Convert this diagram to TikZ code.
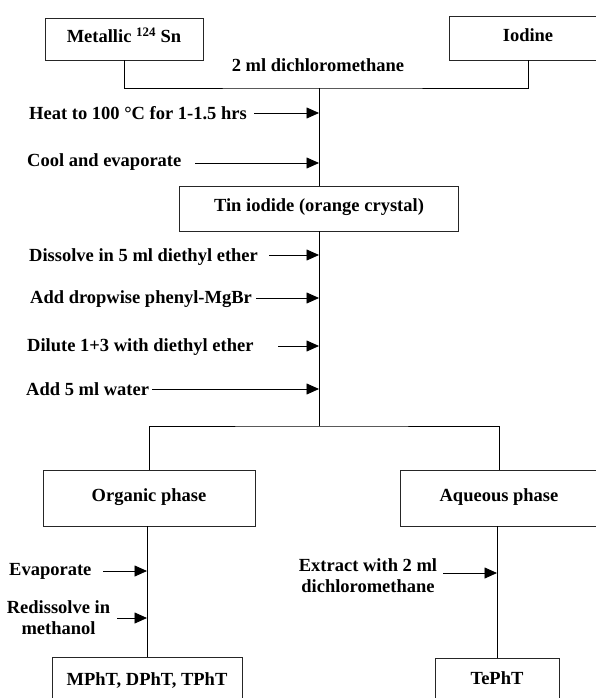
\documentclass[tikz,border=0pt]{standalone}
\usepackage{fontspec}
\setmainfont{Liberation Serif}
\usetikzlibrary{arrows.meta}
\begin{document}
\begin{tikzpicture}[x=1pt,y=-1pt,
  every node/.style={font=\bfseries\fontsize{18.5}{21}\selectfont, inner sep=0pt},
  box/.style={draw=black!85, line width=0.9pt, text height=0.662em, text depth=0pt},
  lbl/.style={anchor=base west},
  arr/.style={-{Triangle[length=12.5pt,width=11pt]}, line width=0.8pt},
  ln/.style={line width=0.9pt}]
\clip (0,0) rectangle (596,698);
\fill[white] (0,0) rectangle (596,698);
% boxes
\node[box, minimum width=158, minimum height=42] (met) at (124,39) {Metallic \textsuperscript{124} Sn};
\node[box, minimum width=158, minimum height=44] (iod) at (528,38) {Iodine};
\node (dcm) at (318,65) {2 ml dichloromethane};
\node[box, minimum width=279, minimum height=45] (tin) at (319,208.5) {Tin iodide (orange crystal)};
\node[box, minimum width=212, minimum height=56] (org) at (149,498) {Organic phase};
\node[box, minimum width=198, minimum height=56] (aq) at (499,498) {Aqueous phase};
\node[box, minimum width=190, minimum height=50] (mpht) at (147,682) {MPhT, DPhT, TPhT};
\node[box, minimum width=124, minimum height=46] (tepht) at (497,681) {TePhT};
% connectors
\coordinate (j1) at (319,88);
\coordinate (j2) at (319,426);
\draw[ln] (met.south) |- (j1) -| (iod.south);
\draw[ln] (j1) -- (tin.north);
\draw[ln] (tin.south) -- (j2);
\draw[ln] (org.north) |- (j2) -| (aq.north);
\draw[ln] (org.south -| mpht.north) -- (mpht.north);
\draw[ln] (aq.south -| tepht.north) -- (tepht.north);
% step labels and arrows
\node[lbl] (heat) at (29,120) {Heat to 100 °C for 1-1.5 hrs};
\coordinate (heatS) at (254,113);
\draw[arr] (heatS) -- (heatS -| tin.north);
\node[lbl] (cool) at (27,166) {Cool and evaporate};
\coordinate (coolS) at (195,163);
\draw[arr] (coolS) -- (coolS -| tin.north);
\node[lbl] (diss) at (29,261) {Dissolve in 5 ml diethyl ether};
\coordinate (dissS) at (269,255);
\draw[arr] (dissS) -- (dissS -| tin.north);
\node[lbl] (drop) at (30,303) {Add dropwise phenyl-MgBr};
\coordinate (dropS) at (256,298);
\draw[arr] (dropS) -- (dropS -| tin.north);
\node[lbl] (dil) at (27,351) {Dilute 1+3 with diethyl ether};
\coordinate (dilS) at (278,346);
\draw[arr] (dilS) -- (dilS -| tin.north);
\node[lbl] (wat) at (26,395) {Add 5 ml water};
\coordinate (watS) at (152,389);
\draw[arr] (watS) -- (watS -| tin.north);
\node[lbl] (evap) at (9,575) {Evaporate};
\coordinate (evapS) at (103,571);
\draw[arr] (evapS) -- (evapS -| mpht.north);
\node[align=center] (redis) at (58.5,618) {Redissolve in\\methanol};
\coordinate (redisS) at (117,618);
\draw[arr] (redisS) -- (redisS -| mpht.north);
\node[align=center] (extr) at (368,576) {Extract with 2 ml\\dichloromethane};
\coordinate (extrS) at (443,573);
\draw[arr] (extrS) -- (extrS -| tepht.north);
\end{tikzpicture}
\end{document}
